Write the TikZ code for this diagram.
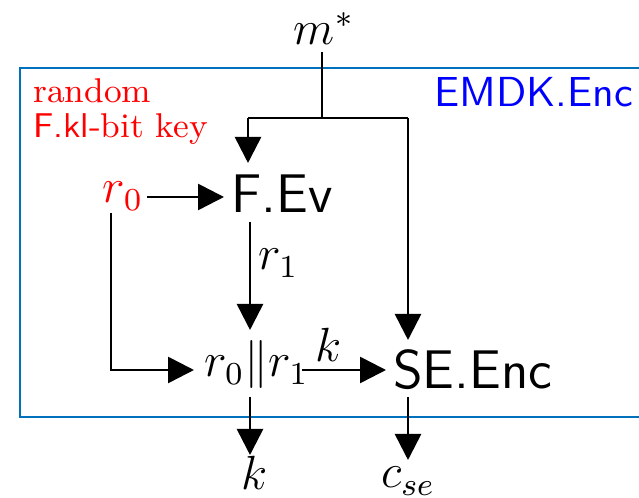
\documentclass[tikz,border=0pt]{standalone}
\usetikzlibrary{arrows.meta}
\definecolor{boxblue}{RGB}{0,114,189}
\begin{document}
\begin{tikzpicture}[x=0.25pt,y=-0.25pt, line width=0.65pt,
  arr/.style={-{Triangle[length=6.5pt,width=6.5pt]}},
  mathl/.style={inner sep=0pt,font=\fontsize{11.5}{13}\selectfont},
  big/.style={inner sep=0pt,font=\fontsize{13.6}{15}\selectfont\sffamily},
  note/.style={inner sep=0pt,anchor=base west,text=red,font=\fontsize{8.6}{10}\selectfont}]
\useasboundingbox (0,0) rectangle (639,498);
\clip (0,0) rectangle (639,498);
% frame
\draw[boxblue, line width=0.7pt] (20,68) rectangle (680,417);
% texts
\node[mathl, anchor=base] (m) at (324,45) {$m^*$};
\node[mathl, anchor=base, text=red] (r0) at (123,203) {$r_0$};
\node[big, anchor=base west] (fev) at (230,213) {F.Ev};
\node[mathl, anchor=base west] (r1l) at (257,270) {$r_1$};
\node[mathl, anchor=base west] (cat) at (203,377) {$r_0\|r_1$};
\node[mathl, anchor=base] (kl) at (329,362) {$k$};
\node[big, anchor=base west] (se) at (392,389) {SE.Enc};
\node[mathl, anchor=base] (kout) at (255,490) {$k$};
\node[mathl, anchor=base] (cse) at (408,488) {$c_{se}$};
\node[note] (rnd) at (32,103) {random};
\node[note] (key) at (32,138) {\textsf{F.kl}-bit key};
\node[inner sep=0pt, anchor=base west, text=blue, font=\fontsize{10.5}{12}\selectfont\sffamily] (emdk) at (433,107) {EMDK.Enc};
% connector ends
\coordinate (mS) at (322,52);
\coordinate (j) at (322,118);
\coordinate (jl) at (248,118);
\coordinate (jr) at (408,118);
\coordinate (fevN) at (248,163);
\coordinate (seN) at (408,340);
\coordinate (r0E) at (147,197);
\coordinate (fevW) at (224,197);
\coordinate (r0S) at (111,213);
\coordinate (bend) at (111,370);
\coordinate (catW) at (194,370);
\coordinate (fevS) at (250,222);
\coordinate (catN) at (250,330);
\coordinate (catE) at (302,370);
\coordinate (seW) at (386,370);
\coordinate (catS) at (250,397);
\coordinate (koutN) at (250,455);
\coordinate (seS) at (408,397);
\coordinate (cseN) at (408,460);
% connectors
\draw (mS) -- (j);
\draw (jl) -- (jr);
\draw[arr] (jl) -- (fevN);
\draw[arr] (jr) -- (seN);
\draw[arr] (r0E) -- (fevW);
\draw[arr] (r0S) -- (bend) -- (catW);
\draw[arr] (fevS) -- (catN);
\draw[arr] (catE) -- (seW);
\draw[arr] (catS) -- (koutN);
\draw[arr] (seS) -- (cseN);
\end{tikzpicture}
\end{document}
